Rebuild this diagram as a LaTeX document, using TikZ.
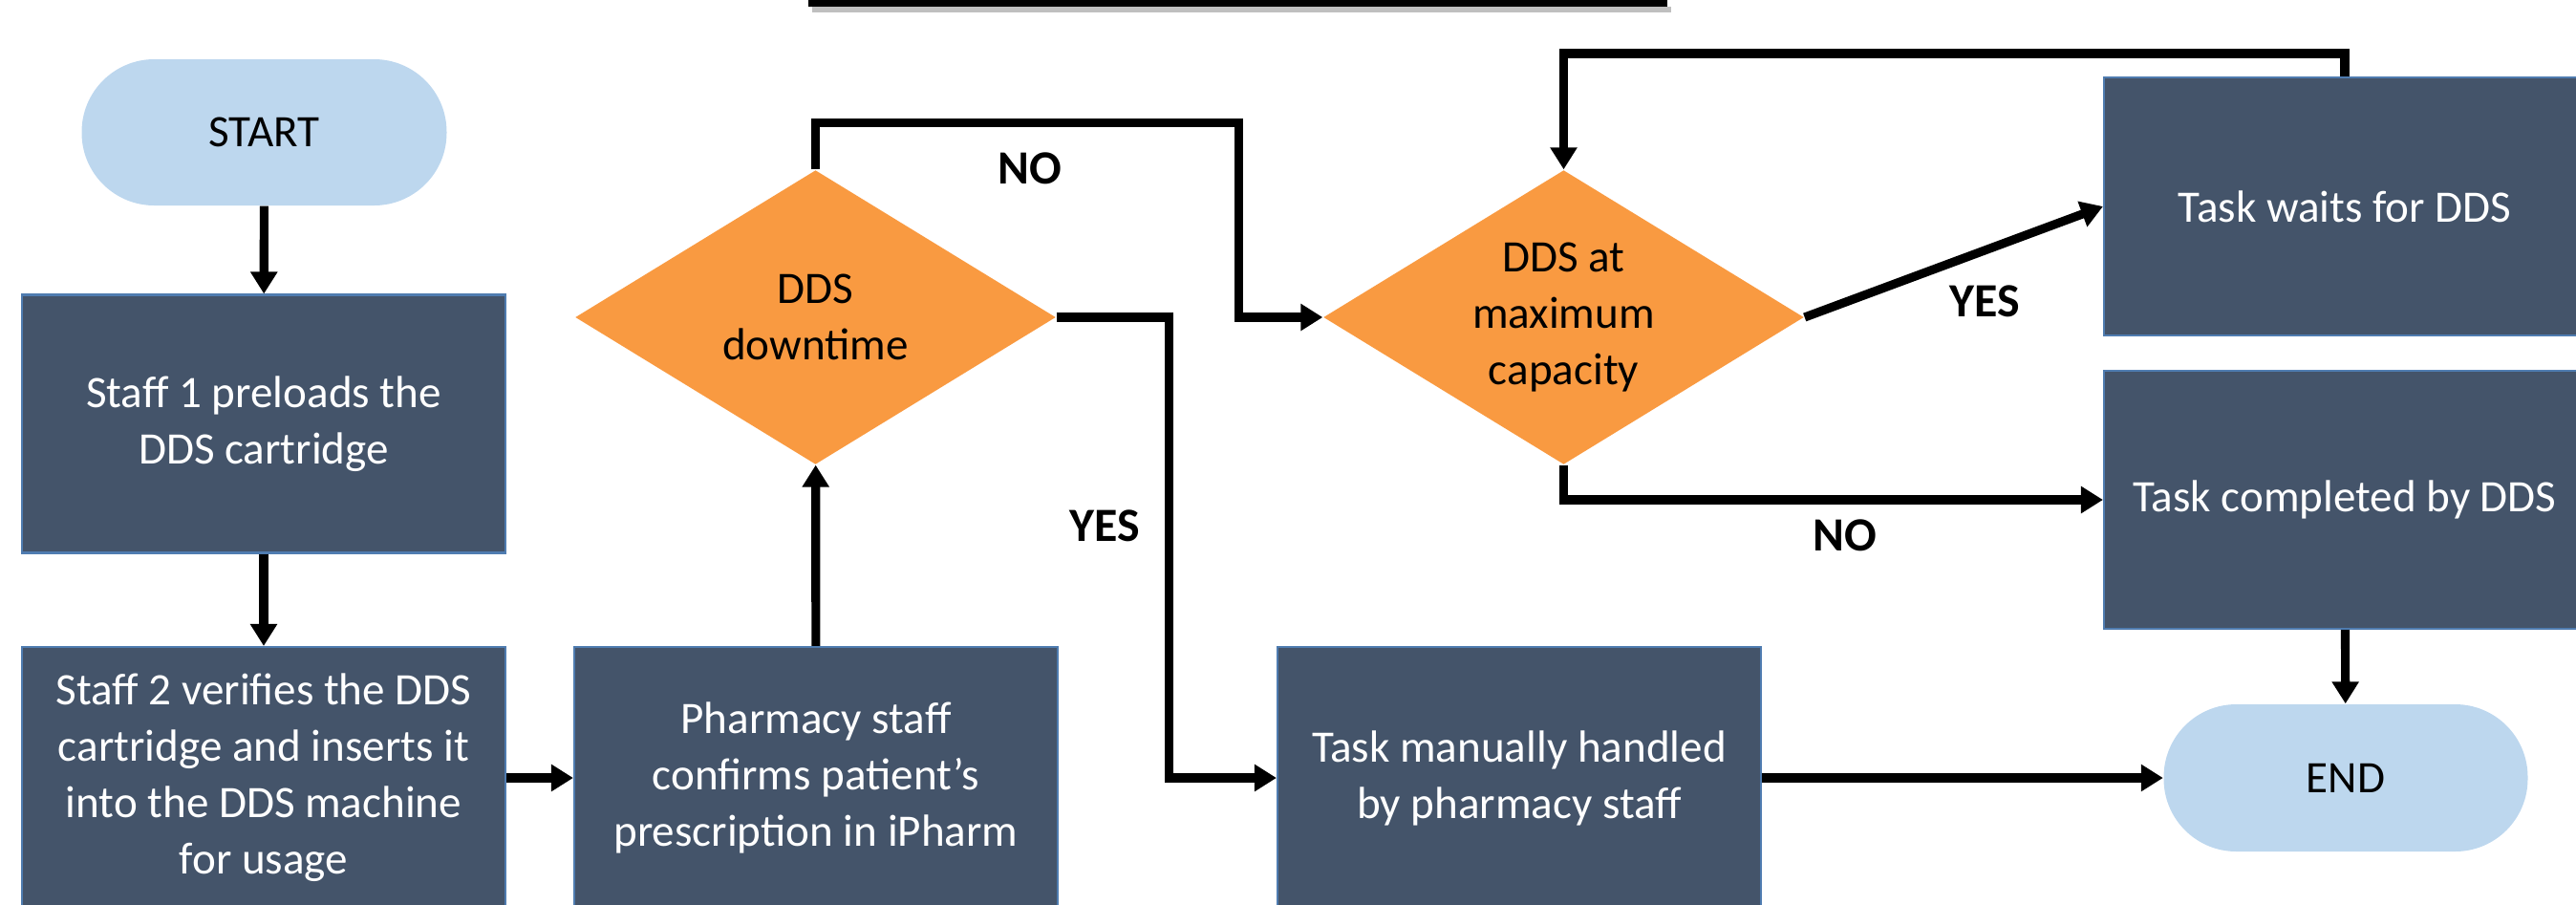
\documentclass[tikz,border=0pt]{standalone}
\usepackage{fontspec}
\setmainfont{Carlito}
\usetikzlibrary{arrows.meta,shapes.geometric}
\definecolor{slate}{HTML}{44546A}
\definecolor{edgeblue}{HTML}{4F7CB0}
\definecolor{capfill}{HTML}{BDD7EE}
\definecolor{decfill}{HTML}{F99A41}

\begin{document}
\begin{tikzpicture}[
  >={Triangle[length=2.3mm,width=2.7mm]},
  every node/.style={font=\fontsize{13.4}{16.8}\selectfont},
  process/.style={rectangle, draw=edgeblue, line width=0.6pt, fill=slate, text=white, align=center, minimum width=5.06cm, minimum height=2.7cm, inner sep=0pt},
  terminal/.style={rectangle, rounded corners=0.76cm, fill=capfill, minimum width=3.82cm, minimum height=1.53cm},
  decision/.style={diamond, fill=decfill, align=center, aspect=1.63, inner sep=0pt, minimum width=5.03cm, minimum height=3.08cm},
  flow/.style={->, line width=2.6pt},
  answer/.style={font=\fontsize{14.2}{17}\selectfont\bfseries}
]
\useasboundingbox (0,0) rectangle (26.96,-9.46);

% title underline (title itself is cut off)
\draw[black!25, line width=1.5pt] (8.50,-0.10) -- (17.49,-0.10);
\draw[line width=2pt] (8.46,-0.035) -- (17.45,-0.035);

% left column
\node[terminal] (start) at (2.765,-1.385) {START};
\node[process] (staff1) at (2.76,-4.435) {Staff 1 preloads the\\DDS cartridge};
\node[process, minimum height=2.74cm] (staff2) at (2.76,-8.14) {Staff 2 verifies the DDS\\cartridge and inserts it\\into the DDS machine\\for usage};

% middle
\node[process, minimum height=2.74cm] (pharm) at (8.54,-8.14) {Pharmacy staff\\confirms patient’s\\prescription in iPharm};
\node[decision] (downtime) at (8.535,-3.32) {DDS\\downtime};
\node[process, minimum height=2.74cm] (manual) at (15.9,-8.14) {Task manually handled\\by pharmacy staff};
\node[decision] (maxcap) at (16.365,-3.32) {DDS at\\maximum\\capacity};

% right column
\node[process, minimum width=5.04cm] (waits) at (24.54,-2.16) {Task waits for DDS};
\node[process, minimum width=5.04cm] (done) at (24.54,-5.23) {Task completed by DDS};
\node[terminal, minimum width=3.81cm, minimum height=1.54cm] (end) at (24.55,-8.14) {END};

% arrows
\draw[flow] (start) -- (staff1);
\draw[flow] (staff1) -- (staff2);
\draw[flow] (staff2) -- (pharm);
\draw[flow] (pharm) -- (downtime);
\draw[flow] (downtime.north) -- ++(0,0.49) -| ([xshift=-0.88cm]maxcap.west) -- (maxcap.west); % no
\draw[flow] (downtime.east) -- ++(1.18,0) |- (manual.west); % yes
\draw[flow] (maxcap.east) -- (waits.west); % yes
\draw[flow] (waits.north) -- ++(0,0.24) -| (maxcap.north); % back again
\draw[flow] (maxcap.south) |- (done.west); % no
\draw[flow] (done) -- (end);
\draw[flow] (manual) -- (end);

% answers
\node[answer] (no1) at (10.78,-1.76) {NO};
\node[answer] (yes1) at (11.56,-5.50) {YES};
\node[answer] (yes2) at (20.77,-3.15) {YES};
\node[answer] (no2) at (19.31,-5.60) {NO};

\end{tikzpicture}
\end{document}
